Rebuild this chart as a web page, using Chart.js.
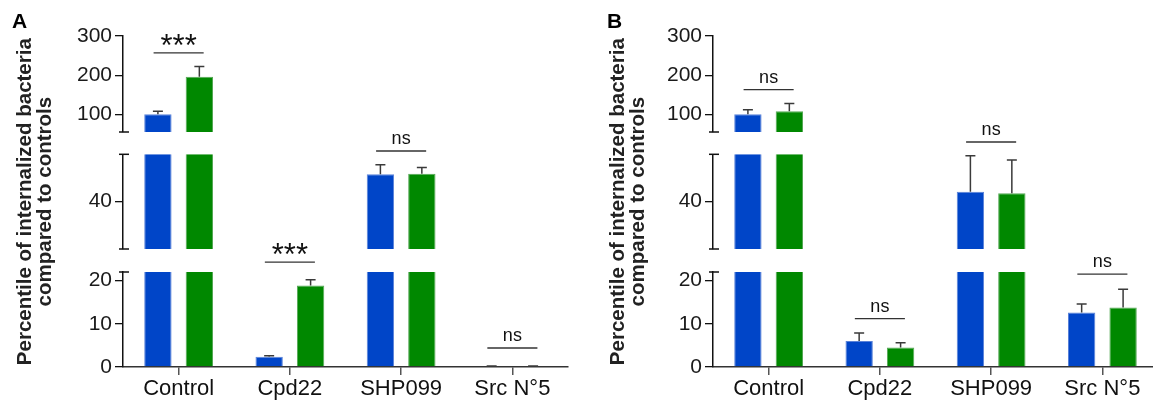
<!DOCTYPE html>
<html>
<head>
<meta charset="utf-8">
<script src="https://cdn.jsdelivr.net/npm/chart.js@4"></script>
<style>
  html, body { margin: 0; padding: 0; background: #fff; overflow: hidden; width: 1153px; height: 401px; }
  canvas { position: absolute; top: 0; }
  #chartA { left: 0; }
  #chartB { left: 576px; }
</style>
</head>
<body>
<canvas id="chartA" width="576" height="401"></canvas>
<canvas id="chartB" width="600" height="401"></canvas>
<script>
const categories = ['Control', 'Cpd22', 'SHP099', 'Src N°5'];
const yTitle = ['Percentile of internalized bacteria', 'compared to controls'];

// broken y axis, pieces from bottom to top
const segMin = [0, 30, 55];
const segMax = [22, 50, 300];
const segTicks = [[0, 10, 20], [40], [100, 200, 300]];

// panel A
const aBlue = [100, 2.4, 45.8, 0.2];
const aBlueSem = [7.7, 0.2, 2.0, 0.05];
const aGreen = [196, 18.9, 45.9, 0.2];
const aGreenSem = [26, 1.3, 1.3, 0.05];
const aSig = ['***', '***', 'ns', 'ns'];
const aSigLevel = [257, 24.3, 50.7, 4.4];
const aSigSeg = [2, 0, 1, 0];

// panel B
const bBlue = [100, 6.0, 42.1, 12.6];
const bBlueSem = [12, 1.9, 7.6, 2.0];
const bGreen = [107.7, 4.5, 41.8, 13.8];
const bGreenSem = [20, 1.1, 7.0, 4.2];
const bSig = ['ns', 'ns', 'ns', 'ns'];
const bSigLevel = [163, 11.2, 52.6, 21.5];
const bSigSeg = [2, 0, 1, 0];

const BLUE = '#0045c8';
const GREEN = '#008800';
const FONT = '"Liberation Sans", Arial, sans-serif';

function segOf(v) {
    for (let k = 0; k < segMin.length; k++) {
        if (v >= segMin[k] && v <= segMax[k]) return k;
    }
    return v > segMax[0] && v < segMin[1] ? 0 : (v < segMin[2] ? 1 : 2);
}

// clip each dataset to its own piece of the axis, then draw error bars, caps and brackets
const brokenAxis = {
    id: 'brokenAxis',
    beforeDatasetDraw(chart, args) {
        const s = args.meta.yScale;
        const ctx = chart.ctx;
        ctx.save();
        ctx.beginPath();
        ctx.rect(chart.chartArea.left, s.top, chart.chartArea.right - chart.chartArea.left, s.bottom - s.top);
        ctx.clip();
    },
    afterDatasetDraw(chart) {
        chart.ctx.restore();
    },
    afterDatasetsDraw(chart, args, opts) {
        const ctx = chart.ctx;
        const xs = chart.scales.x;
        const ax = chart.chartArea.left;

        // error bars (upper half only)
        chart.data.datasets.forEach((ds, di) => {
            if (!ds.sem) return;
            const meta = chart.getDatasetMeta(di);
            ds.data.forEach((v, i) => {
                const bar = meta.data[i];
                const t = v + ds.sem[i];
                const yV = chart.scales['y' + segOf(v)].getPixelForValue(v);
                const yT = chart.scales['y' + segOf(t)].getPixelForValue(t);
                ctx.save();
                ctx.strokeStyle = '#3a3a3a';
                ctx.lineWidth = 1.5;
                ctx.beginPath();
                ctx.moveTo(bar.x, yV);
                ctx.lineTo(bar.x, yT);
                ctx.moveTo(bar.x - 5, yT);
                ctx.lineTo(bar.x + 5, yT);
                ctx.stroke();
                ctx.restore();
            });
        });

        // caps at the ends of each axis piece
        const capsAt = [chart.scales.y2.bottom, chart.scales.y1.top, chart.scales.y1.bottom, chart.scales.y0.top];
        ctx.save();
        ctx.strokeStyle = '#111';
        ctx.lineWidth = 1.5;
        capsAt.forEach(y => {
            ctx.beginPath();
            ctx.moveTo(ax - 4, y);
            ctx.lineTo(ax + 6, y);
            ctx.stroke();
        });
        ctx.restore();

        // significance brackets
        const half = xs.width / categories.length * 0.225;
        opts.sig.forEach((txt, i) => {
            const cx = xs.getPixelForValue(i);
            const y = chart.scales['y' + opts.seg[i]].getPixelForValue(opts.level[i]);
            ctx.save();
            ctx.strokeStyle = '#333';
            ctx.lineWidth = 1.3;
            ctx.beginPath();
            ctx.moveTo(cx - half, y);
            ctx.lineTo(cx + half, y);
            ctx.stroke();
            ctx.fillStyle = '#111';
            ctx.textAlign = 'center';
            ctx.textBaseline = 'alphabetic';
            if (txt === 'ns') {
                ctx.font = '18px ' + FONT;
                ctx.fillText(txt, cx, y - 7);
            } else {
                ctx.font = '31px ' + FONT;
                ctx.fillText(txt, cx, y + 3);
            }
            ctx.restore();
        });

        // panel letter
        ctx.save();
        ctx.fillStyle = '#000';
        ctx.font = 'bold 21px ' + FONT;
        ctx.textAlign = 'left';
        ctx.textBaseline = 'alphabetic';
        ctx.fillText(opts.label, opts.labelX, 28);
        ctx.restore();
    }
};

function yPiece(k, weight, stackWeight, axisWidth, titlePad) {
    return {
        type: 'linear',
        position: 'left',
        stack: 'left',
        stackWeight: stackWeight,
        weight: weight,
        min: segMin[k],
        max: segMax[k],
        afterBuildTicks: s => { s.ticks = segTicks[k].map(v => ({ value: v })); },
        afterFit: s => { s.width = axisWidth; },
        grid: { drawOnChartArea: false, tickLength: 8, color: '#111', lineWidth: 1.3 },
        border: { color: '#111', width: 1.5 },
        ticks: {
            autoSkip: false,
            padding: 3,
            color: '#1a1a1a',
            font: { family: FONT, size: 21 },
        },
        title: {
            display: k === 1,
            text: yTitle,
            color: '#222',
            padding: { top: titlePad, bottom: 0 },
            font: { family: FONT, size: 20.5, weight: 'bold', lineHeight: 1.0 },
        },
    };
}

function gapPiece(weight, stackWeight, axisWidth) {
    return {
        type: 'linear',
        position: 'left',
        stack: 'left',
        stackWeight: stackWeight,
        weight: weight,
        display: false,
        afterFit: s => { s.width = axisWidth; },
    };
}

function makeChart(id, p) {
    const datasets = [];
    [0, 1, 2].forEach(k => {
        datasets.push({
            label: 'blue', data: p.blue, sem: k === 0 ? p.blueSem : null,
            backgroundColor: BLUE, borderColor: '#5a82d8', borderWidth: 1,
            yAxisID: 'y' + k, stack: 'blue',
        });
        datasets.push({
            label: 'green', data: p.green, sem: k === 0 ? p.greenSem : null,
            backgroundColor: GREEN, borderColor: '#55a855', borderWidth: 1,
            yAxisID: 'y' + k, stack: 'green',
        });
    });

    return new Chart(document.getElementById(id), {
        type: 'bar',
        data: { labels: categories, datasets: datasets },
        options: {
            responsive: false,
            animation: false,
            barPercentage: 0.66,
            categoryPercentage: 0.745,
            layout: { padding: { top: 36, right: p.padRight, left: 0, bottom: 0 } },
            plugins: {
                legend: { display: false },
                tooltip: { enabled: false },
                brokenAxis: { sig: p.sig, level: p.sigLevel, seg: p.sigSeg, label: p.label, labelX: p.labelX },
            },
            scales: {
                x: {
                    type: 'category',
                    offset: true,
                    afterFit: s => { s.height = 34; },
                    grid: { offset: false, drawOnChartArea: false, tickLength: 8, color: '#555', lineWidth: 1.5 },
                    border: { color: '#333', width: 1.5 },
                    ticks: {
                        padding: 1,
                        maxRotation: 0,
                        autoSkip: false,
                        color: '#111',
                        font: { family: FONT, size: 22 },
                    },
                },
                y2: yPiece(2, 5, 96, p.axisWidth, p.titlePad),
                g1: gapPiece(4, 22.3, p.axisWidth),
                y1: yPiece(1, 3, 94.7, p.axisWidth, p.titlePad),
                g2: gapPiece(2, 23, p.axisWidth),
                y0: yPiece(0, 1, 95, p.axisWidth, p.titlePad),
            },
        },
        plugins: [brokenAxis],
    });
}

makeChart('chartA', {
    blue: aBlue, blueSem: aBlueSem, green: aGreen, greenSem: aGreenSem,
    sig: aSig, sigLevel: aSigLevel, sigSeg: aSigSeg,
    label: 'A', labelX: 12, axisWidth: 123, padRight: 8, titlePad: 15,
});

makeChart('chartB', {
    blue: bBlue, blueSem: bBlueSem, green: bGreen, greenSem: bGreenSem,
    sig: bSig, sigLevel: bSigLevel, sigSeg: bSigSeg,
    label: 'B', labelX: 31, axisWidth: 137, padRight: 18, titlePad: 32,
});
</script>
</body>
</html>
